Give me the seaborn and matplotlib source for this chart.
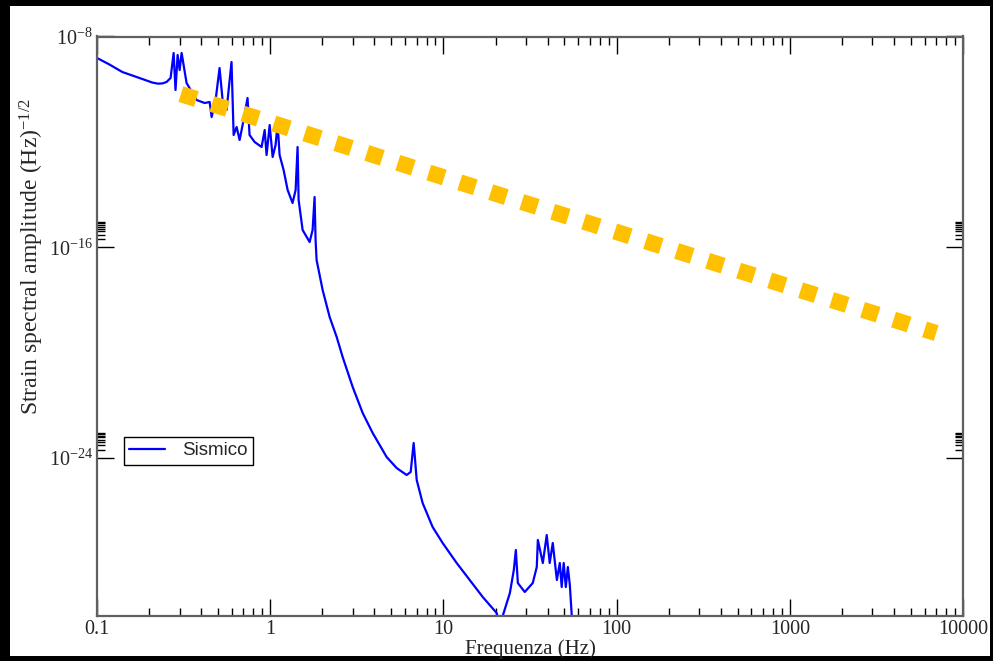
import numpy as np
import pandas as pd
import seaborn as sns
import matplotlib.pyplot as plt
from matplotlib.patches import Rectangle
from matplotlib.ticker import FixedLocator, FixedFormatter, NullFormatter

sns.set_style("white")
plt.rcParams['font.family'] = ['Liberation Serif', 'DejaVu Serif']
plt.rcParams['mathtext.fontset'] = 'custom'
plt.rcParams['mathtext.rm'] = 'Liberation Serif'
plt.rcParams['mathtext.it'] = 'Liberation Serif:italic'

# seismic noise curve (frequency in Hz, log10 of strain amplitude)
freq = [0.100, 0.118, 0.140, 0.176, 0.209, 0.225, 0.239, 0.252, 0.266, 0.277, 0.284, 0.292, 0.300, 0.308,
        0.329, 0.376, 0.418, 0.447, 0.459, 0.484, 0.510, 0.531, 0.560, 0.598,
        0.615, 0.640, 0.666, 0.702, 0.740, 0.760, 0.813, 0.892, 0.929, 0.953,
        0.993, 1.033, 1.074, 1.104, 1.133, 1.195, 1.261, 1.346, 1.402, 1.439,
        1.459, 1.539, 1.689, 1.757, 1.804, 1.828, 1.853, 2.008, 2.204, 2.420,
        2.620, 2.994, 3.420, 3.906, 4.702, 5.370, 6.134, 6.472, 6.733, 6.826,
        7.012, 7.586, 8.665, 9.90, 11.93, 14.19, 16.87, 20.3, 21.1, 22.0,
        24.2, 25.5, 26.2, 26.9, 29.5, 32.8, 34.6, 35.1, 37.5, 39.5,
        41.1, 42.8, 45.2, 47.0, 48.2, 49.5, 50.9, 52.3, 53.7, 55.1, 55.5]
log_amp = [-8.816, -9.063, -9.348, -9.576, -9.750, -9.790, -9.780, -9.727, -9.576, -8.626, -10.031, -8.702, -9.272, -8.626,
           -9.765, -10.411, -10.525, -10.487, -11.056, -10.411, -9.196, -10.411, -10.790, -8.968,
           -11.740, -11.436, -11.929, -11.170, -10.335, -11.740, -12.005, -12.195, -11.550, -12.499,
           -11.360, -12.575, -12.119, -11.322, -12.499, -13.068, -13.828, -14.321, -13.828, -12.195,
           -14.207, -15.346, -15.802, -15.346, -14.093, -15.726, -16.485, -17.624, -18.649, -19.408,
           -20.168, -21.307, -22.294, -23.053, -23.964, -24.382, -24.647, -24.533, -23.432, -23.888,
           -24.837, -25.710, -26.621, -27.229, -27.988, -28.634, -29.279, -29.886, -30.34, -30.0,
           -29.127, -28.254, -27.495, -28.748, -29.089, -28.748, -28.140, -27.115, -27.988, -26.926,
           -27.988, -27.229, -28.634, -27.988, -28.900, -27.988, -28.900, -28.140, -28.820, -30.0, -30.9]

# yellow sensitivity overlay (end points)
overlay_freq = [0.305, 7000.0]
overlay_amp = [6.5e-11, 5.5e-20]

x_ticks = [0.1, 1, 10, 100, 1000, 10000]
x_labels = ["0.1", "1", "10", "100", "1000", "10000"]
y_ticks = [1e-8, 1e-16, 1e-24]
y_labels = [r"$\mathregular{10^{-8}}$", r"$\mathregular{10^{-16}}$", r"$\mathregular{10^{-24}}$"]

df = pd.DataFrame({"freq": freq, "amp": 10.0 ** np.array(log_amp)})
over = pd.DataFrame({"freq": overlay_freq, "amp": overlay_amp})

fig = plt.figure(figsize=(9.93, 6.61), dpi=100)
fig.patch.set_facecolor("black")
fig.patches.append(Rectangle((10 / 993, 5 / 661), 980 / 993, 650 / 661,
                             transform=fig.transFigure, facecolor="white",
                             edgecolor="none", zorder=-5))
ax = fig.add_axes([97 / 993, 1 - 616 / 661, 866 / 993, 579.5 / 661])
ax.set_zorder(2)
ax.set_xscale("log")
ax.set_yscale("log")

sns.lineplot(data=df, x="freq", y="amp", ax=ax, color="#0000FF", lw=1.6,
             sort=False, estimator=None, label="Sismico")
sns.lineplot(data=over, x="freq", y="amp", ax=ax, color="#FFC000", lw=11.7,
             linestyle=(0, (1, 1)), solid_capstyle="butt", legend=False)

ax.set_xlim(0.1, 10000)
ax.set_ylim(1e-30, 1e-8)

ax.xaxis.set_major_locator(FixedLocator(x_ticks))
ax.xaxis.set_major_formatter(FixedFormatter(x_labels))
x_minor = [k * d for d in [0.1, 1, 10, 100, 1000] for k in range(2, 10)]
ax.xaxis.set_minor_locator(FixedLocator(x_minor))
ax.xaxis.set_minor_formatter(NullFormatter())

ax.yaxis.set_major_locator(FixedLocator(y_ticks))
ax.yaxis.set_major_formatter(FixedFormatter(y_labels))
y_minor = [k * d for d in [1e-16, 1e-24] for k in range(2, 10)]
ax.yaxis.set_minor_locator(FixedLocator(y_minor))
ax.yaxis.set_minor_formatter(NullFormatter())

ax.tick_params(which="both", direction="in", top=True, right=True,
               bottom=True, left=True, color="black", width=1)
ax.tick_params(which="major", length=12, labelsize=14.5, pad=3)
ax.tick_params(which="minor", length=6)
for s in ax.spines.values():
    s.set_color("#606060")
    s.set_linewidth(1.6)

ax.set_xlabel("Frequenza (Hz)", fontsize=15, labelpad=0)
ax.set_ylabel(r"Strain spectral amplitude (Hz)$^{\mathregular{-1/2}}$", fontsize=17)
ax.yaxis.set_label_coords(-0.059, 0.621)

leg = ax.legend(loc="upper left", bbox_to_anchor=(0.031, 0.309), frameon=True,
                fancybox=False, edgecolor="black", framealpha=1,
                prop={"family": "Liberation Sans", "size": 13.5},
                handlelength=1.9, handletextpad=0.95, borderpad=0.28,
                borderaxespad=0)
leg.get_frame().set_linewidth(1)

fig.savefig("out.png", dpi=100, facecolor=fig.get_facecolor())
